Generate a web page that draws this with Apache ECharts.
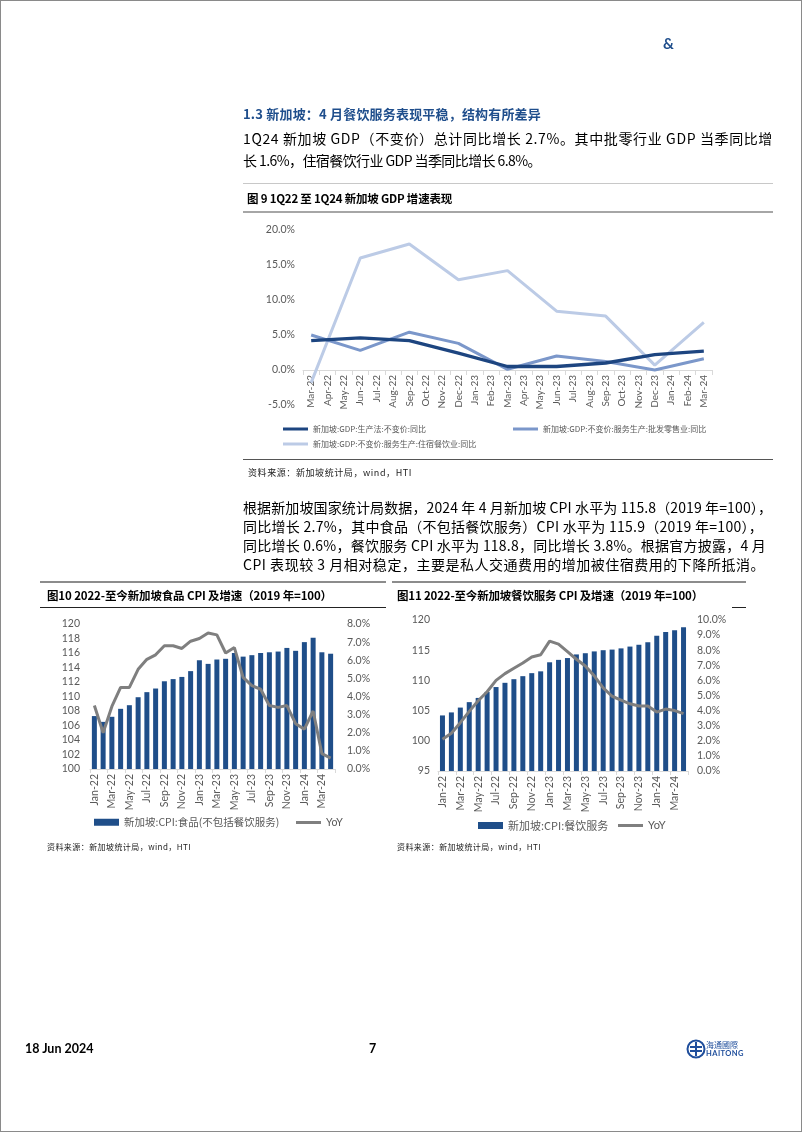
<!DOCTYPE html>
<html><head><meta charset="utf-8">
<script src="https://cdn.jsdelivr.net/npm/echarts/dist/echarts.min.js"></script>
<style>
html,body{margin:0;padding:0;background:#fff;}
#page{position:relative;width:800px;height:1130px;border:1px solid #8a8a8a;overflow:hidden;font-family:"Noto Sans CJK SC","Noto Sans",sans-serif;color:#000;}
#c{position:absolute;left:-1px;top:-1px;width:802px;height:1132px;}
.t{position:absolute;white-space:nowrap;display:inline-block;}
.rule{position:absolute;height:0;}
</style></head>
<body>
<div id="page">
<div id="c"></div>
</div>
<script>
// ---------- DATA ----------
const gdpMonths = ['Mar-22','Apr-22','May-22','Jun-22','Jul-22','Aug-22','Sep-22','Oct-22','Nov-22','Dec-22','Jan-23','Feb-23','Mar-23','Apr-23','May-23','Jun-23','Jul-23','Aug-23','Sep-23','Oct-23','Nov-23','Dec-23','Jan-24','Feb-24','Mar-24'];
const gdpQuarters = ['Mar-22','Jun-22','Sep-22','Dec-22','Mar-23','Jun-23','Sep-23','Dec-23','Mar-24'];
const gdpTotal = [4.2,4.6,4.2,2.4,0.5,0.5,1.0,2.2,2.7];
const gdpWholesale = [5.0,2.8,5.4,3.8,0.1,2.0,1.2,0.0,1.6];
const gdpAccommodation = [-1.8,16.0,18.0,12.9,14.2,8.4,7.7,0.7,6.8];
const gdpNames = ['新加坡:GDP:生产法:不变价:同比','新加坡:GDP:不变价:服务生产:批发零售业:同比','新加坡:GDP:不变价:服务生产:住宿餐饮业:同比'];

const cpiMonths = ['Jan-22','Feb-22','Mar-22','Apr-22','May-22','Jun-22','Jul-22','Aug-22','Sep-22','Oct-22','Nov-22','Dec-22','Jan-23','Feb-23','Mar-23','Apr-23','May-23','Jun-23','Jul-23','Aug-23','Sep-23','Oct-23','Nov-23','Dec-23','Jan-24','Feb-24','Mar-24','Apr-24'];
const foodCpi = [107.3,106.5,107.2,108.3,108.8,109.9,110.6,111.1,112.1,112.4,112.7,113.5,115.0,114.5,115.1,115.2,116.0,115.5,115.7,116.0,116.1,116.2,116.7,116.3,117.5,118.1,116.1,115.9];
const foodYoY = [3.5,2.0,3.45,4.5,4.5,5.5,6.05,6.3,6.8,6.8,6.65,7.05,7.2,7.5,7.4,6.4,6.7,5.05,4.6,4.4,3.5,3.4,3.5,2.5,2.2,3.2,0.85,0.6];
const fbCpi = [104.2,104.7,105.5,106.4,107.1,108.1,108.9,109.6,110.2,110.7,111.2,111.5,113.0,113.4,113.7,114.3,114.5,114.8,115.0,115.1,115.3,115.6,115.9,116.3,117.4,118.0,118.3,118.8];
const fbYoY = [2.1,2.5,3.2,3.95,4.65,5.25,6.0,6.45,6.8,7.15,7.55,7.7,8.6,8.4,7.9,7.4,6.95,6.3,5.5,4.95,4.7,4.45,4.3,4.3,3.9,4.1,4.0,3.8];
const foodName = '新加坡:CPI:食品(不包括餐饮服务)';
const fbName = '新加坡:CPI:餐饮服务';

// ---------- TEXTS ----------
const texts = [
 {s:'&', x:663, y:43, f:15, b:700, c:'#1f4e8c', fam:'Lato'},
 {s:'1.3 新加坡：4 月餐饮服务表现平稳，结构有所差异', x:243, y:113, f:13, b:700, c:'#1f4e8c', w:298},
 {s:'1Q24 新加坡 GDP（不变价）总计同比增长 2.7%。其中批零行业 GDP 当季同比增', x:243, y:138, f:14, w:530},
 {s:'长 1.6%，住宿餐饮行业 GDP 当季同比增长 6.8%。', x:243, y:160, f:14, w:298},
 {s:'图 9 1Q22 至 1Q24 新加坡 GDP 增速表现', x:247, y:198, f:11.5, b:700, w:205},
 {s:'资料来源：新加坡统计局，wind，HTI', x:248, y:473, f:9, c:'#222', w:164},
 {s:'根据新加坡国家统计局数据，2024 年 4 月新加坡 CPI 水平为 115.8（2019 年=100），', x:243, y:507, f:14, w:529},
 {s:'同比增长 2.7%，其中食品（不包括餐饮服务）CPI 水平为 115.9（2019 年=100），', x:243, y:526, f:14, w:520},
 {s:'同比增长 0.6%，餐饮服务 CPI 水平为 118.8，同比增长 3.8%。根据官方披露，4 月', x:243, y:545, f:14, w:523},
 {s:'CPI 表现较 3 月相对稳定，主要是私人交通费用的增加被住宿费用的下降所抵消。', x:243, y:564, f:14, w:522},
 {s:'图10 2022-至今新加坡食品 CPI 及增速（2019 年=100）', x:47, y:595, f:11.5, b:700, w:285},
 {s:'图11 2022-至今新加坡餐饮服务 CPI 及增速（2019 年=100）', x:397, y:595, f:11.5, b:700, w:306},
 {s:'资料来源：新加坡统计局，wind，HTI', x:47, y:847, f:8, c:'#222', w:144},
 {s:'资料来源：新加坡统计局，wind，HTI', x:397, y:847, f:8, c:'#222', w:144},
 {s:'18 Jun 2024', x:25, y:1049, f:12.5, b:700, fam:'Lato'},
 {s:'7', x:369, y:1049, f:12.5, b:700, fam:'Lato'},
 {s:'海通國際', x:706, y:1045, f:8, c:'#1f4e9c'},
 {s:'HAITONG', x:706, y:1054, f:7.5, b:700, c:'#1f4e9c', fam:'Lato', w:38}
];
const rules = [
 {x:243, y:183, w:530, h:1, c:'#c8c8c8'},
 {x:243, y:211, w:530, h:2, c:'#a6a6a6'},
 {x:243, y:459, w:530, h:1, c:'#555'},
 {x:40, y:581, w:346, h:2, c:'#8c8c8c'},
 {x:392, y:581, w:354, h:2, c:'#8c8c8c'},
 {x:40, y:607, w:346, h:1, c:'#222'},
 {x:732, y:607, w:14, h:1, c:'#222'}
];
const page = document.getElementById('page');
rules.forEach(r=>{
  const d=document.createElement('div'); d.className='rule';
  d.style.cssText=`left:${r.x-1}px;top:${r.y-1}px;width:${r.w}px;border-top:${r.h}px solid ${r.c};`;
  page.appendChild(d);
});
texts.forEach(t=>{
  const d=document.createElement('div'); d.className='t'; d.textContent=t.s;
  const lh=Math.round(t.f*1.3);
  d.style.cssText=`left:${t.x-1}px;top:${t.y-lh/2-1}px;font-size:${t.f}px;line-height:${lh}px;font-weight:${t.b||400};color:${t.c||'#000'};`+(t.fam?`font-family:${t.fam},"Noto Sans CJK SC";`:'');
  page.appendChild(d);
  if(t.w){
    const nat=d.getBoundingClientRect().width;
    const n=t.s.length;
    d.style.letterSpacing=((t.w-nat)/n)+'px';
  }
});
// logo circle
const svgNS='http://www.w3.org/2000/svg';
const svg=document.createElementNS(svgNS,'svg');
svg.setAttribute('width','20');svg.setAttribute('height','20');
svg.style.cssText='position:absolute;left:685px;top:1038px;';
svg.innerHTML='<circle cx="10" cy="10" r="8.5" fill="none" stroke="#1f4e9c" stroke-width="2"/><path d="M4 8 H16 M4 12 H16 M10 3 V17" stroke="#1f4e9c" stroke-width="2" fill="none"/>';
page.appendChild(svg);

// ---------- CHART ----------
function quarterSeries(vals){
  return gdpMonths.map(m=>{const i=gdpQuarters.indexOf(m);return i>=0?vals[i]:null;});
}
const chart = echarts.init(document.getElementById('c'), null, {width:802, height:1132});
const lab = {color:'#595959', fontFamily:'Lato', fontSize:10};
const pct = v=>v.toFixed(1)+'%';
const gdpColors = ['#1d4580','#7b97ca','#bccbe6'];
const legendBase = {orient:'horizontal', itemGap:5, selectedMode:false, textStyle:{color:'#595959', fontSize:8, fontFamily:'Noto Sans CJK SC'}};
chart.setOption({
  animation:false,
  grid:[
    {left:303, top:230, width:409, height:175},
    {left:90, top:624, width:245, height:145},
    {left:438, top:620, width:250, height:151}
  ],
  xAxis:[
    {gridIndex:0, type:'category', data:gdpMonths, boundaryGap:true, offset:-35,
     axisLine:{onZero:false, lineStyle:{color:'#d9d9d9'}}, axisTick:{show:true, length:5, lineStyle:{color:'#d9d9d9'}},
     axisLabel:Object.assign({}, lab, {rotate:90, interval:0, margin:5})},
    {gridIndex:1, type:'category', data:cpiMonths, boundaryGap:true,
     axisLine:{lineStyle:{color:'#d9d9d9'}}, axisTick:{show:true, length:4, interval:1, lineStyle:{color:'#d9d9d9'}},
     axisLabel:Object.assign({}, lab, {fontSize:10.5, rotate:90, interval:1, margin:5})},
    {gridIndex:2, type:'category', data:cpiMonths, boundaryGap:true,
     axisLine:{lineStyle:{color:'#d9d9d9'}}, axisTick:{show:true, length:4, interval:1, lineStyle:{color:'#d9d9d9'}},
     axisLabel:Object.assign({}, lab, {fontSize:10.5, rotate:90, interval:1, margin:5})}
  ],
  yAxis:[
    {gridIndex:0, type:'value', min:-5, max:20, interval:5, splitLine:{show:false}, axisLine:{show:false}, axisTick:{show:false},
     axisLabel:Object.assign({}, lab, {fontSize:10.5, margin:8, formatter:pct})},
    {gridIndex:1, type:'value', min:100, max:120, interval:2, splitLine:{show:false}, axisLine:{show:false}, axisTick:{show:false},
     axisLabel:Object.assign({}, lab, {fontSize:10.5, margin:10})},
    {gridIndex:1, type:'value', position:'right', min:0, max:8, interval:1, splitLine:{show:false}, axisLine:{show:false}, axisTick:{show:false},
     axisLabel:Object.assign({}, lab, {fontSize:10.5, margin:12, formatter:pct})},
    {gridIndex:2, type:'value', min:95, max:120, interval:5, splitLine:{show:false}, axisLine:{show:false}, axisTick:{show:false},
     axisLabel:Object.assign({}, lab, {fontSize:10.5, margin:8})},
    {gridIndex:2, type:'value', position:'right', min:0, max:10, interval:1, splitLine:{show:false}, axisLine:{show:false}, axisTick:{show:false},
     axisLabel:Object.assign({}, lab, {fontSize:10.5, margin:9, formatter:pct})}
  ],
  legend:[
    Object.assign({}, legendBase, {data:[gdpNames[0]], left:278, top:420, itemWidth:25, itemHeight:3, icon:'rect'}),
    Object.assign({}, legendBase, {data:[gdpNames[1]], left:508, top:420, itemWidth:25, itemHeight:3, icon:'rect'}),
    Object.assign({}, legendBase, {data:[gdpNames[2]], left:278, top:435, itemWidth:25, itemHeight:3, icon:'rect'}),
    Object.assign({}, legendBase, {data:[foodName], left:89, top:812, itemWidth:25, itemHeight:7, icon:'rect', textStyle:{color:'#595959', fontSize:10.5, fontFamily:'Noto Sans CJK SC'}}),
    Object.assign({}, legendBase, {data:['YoY'], left:291, top:812, itemWidth:25, itemHeight:3, icon:'rect', textStyle:{color:'#595959', fontSize:10.5, fontFamily:'Lato'}}),
    Object.assign({}, legendBase, {data:[fbName], left:473, top:815, itemWidth:25, itemHeight:7, icon:'rect', textStyle:{color:'#595959', fontSize:11, fontFamily:'Noto Sans CJK SC'}}),
    Object.assign({}, legendBase, {data:['YoY'], left:613, top:815, itemWidth:25, itemHeight:3, icon:'rect', textStyle:{color:'#595959', fontSize:11, fontFamily:'Lato'}})
  ],
  series:[
    {name:gdpNames[2], type:'line', xAxisIndex:0, yAxisIndex:0, data:quarterSeries(gdpAccommodation), connectNulls:true, showSymbol:false, symbol:'none', lineStyle:{width:3, color:gdpColors[2]}, itemStyle:{color:gdpColors[2]}, z:2},
    {name:gdpNames[1], type:'line', xAxisIndex:0, yAxisIndex:0, data:quarterSeries(gdpWholesale), connectNulls:true, showSymbol:false, symbol:'none', lineStyle:{width:3, color:gdpColors[1]}, itemStyle:{color:gdpColors[1]}, z:3},
    {name:gdpNames[0], type:'line', xAxisIndex:0, yAxisIndex:0, data:quarterSeries(gdpTotal), connectNulls:true, showSymbol:false, symbol:'none', lineStyle:{width:3.3, color:gdpColors[0]}, itemStyle:{color:gdpColors[0]}, z:4},
    {name:foodName, type:'bar', xAxisIndex:1, yAxisIndex:1, data:foodCpi, barWidth:5, itemStyle:{color:'#1f4e89'}},
    {name:'YoY', type:'line', xAxisIndex:1, yAxisIndex:2, data:foodYoY, showSymbol:false, symbol:'none', lineStyle:{width:3, color:'#7f7f7f'}, itemStyle:{color:'#7f7f7f'}, z:5},
    {name:fbName, type:'bar', xAxisIndex:2, yAxisIndex:3, data:fbCpi, barWidth:5, itemStyle:{color:'#1f4e89'}},
    {name:'YoY', type:'line', xAxisIndex:2, yAxisIndex:4, data:fbYoY, showSymbol:false, symbol:'none', lineStyle:{width:3, color:'#7f7f7f'}, itemStyle:{color:'#7f7f7f'}, z:5}
  ]
});
</script>
</body></html>
